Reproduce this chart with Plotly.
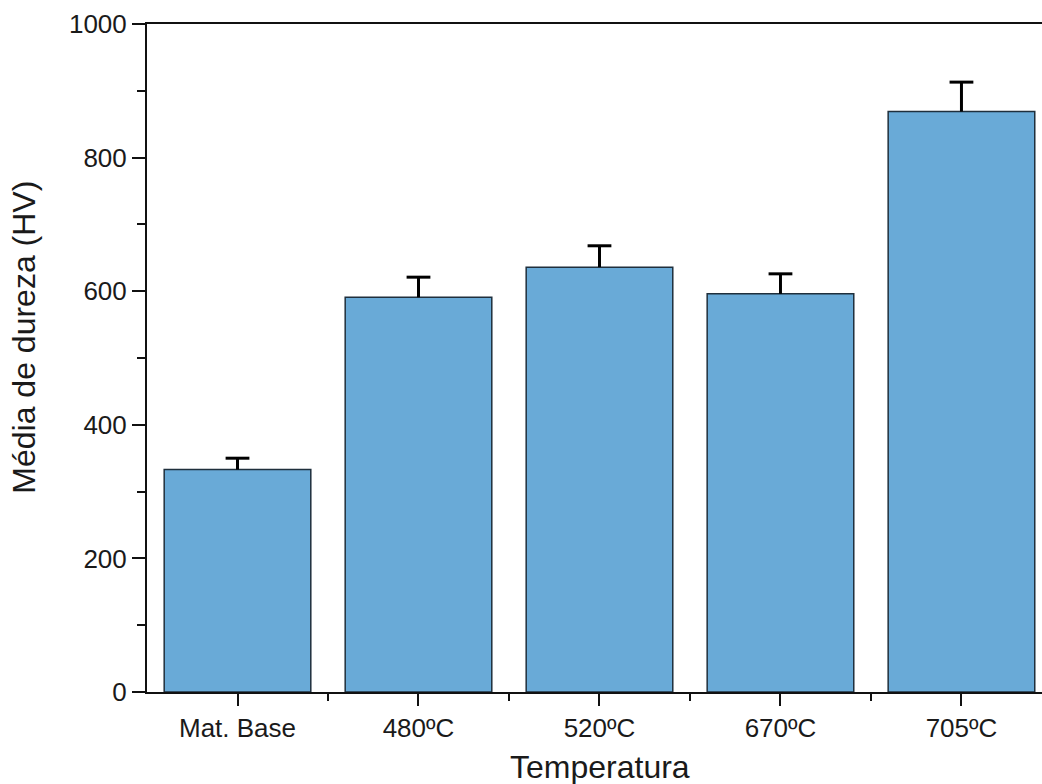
import plotly.graph_objects as go

# Vickers hardness by heat-treatment temperature
categorias = ["Mat. Base", "480ºC", "520ºC", "670ºC", "705ºC"]
dureza_media = [333, 591, 636, 596, 869]
desvio = [17, 30, 32, 30, 44]

posicoes = list(range(len(categorias)))
topo_erro = [m + d for m, d in zip(dureza_media, desvio)]

fig = go.Figure()
fig.add_trace(go.Bar(
    x=posicoes,
    y=dureza_media,
    width=0.81,
    marker=dict(color="#69aad7", line=dict(color="#1f2f3c", width=1.5)),
    showlegend=False,
))

# Upper error whiskers: stem from the bar top plus a single cap at the end
fig.add_trace(go.Scatter(
    x=posicoes,
    y=dureza_media,
    mode="markers",
    marker=dict(opacity=0),
    error_y=dict(
        type="data",
        symmetric=False,
        array=desvio,
        arrayminus=[0] * len(desvio),
        color="black",
        thickness=3,
        width=0,
    ),
    showlegend=False,
    hoverinfo="skip",
))
fig.add_trace(go.Scatter(
    x=posicoes,
    y=topo_erro,
    mode="markers",
    marker=dict(symbol="line-ew", size=17, line=dict(color="black", width=3)),
    showlegend=False,
    hoverinfo="skip",
))

font_family = "Liberation Sans, Arial, sans-serif"
axis_color = "#111111"
text_color = "#1a1a1a"

fig.update_layout(
    width=1042,
    height=784,
    margin=dict(l=147, r=0, t=24, b=92),
    paper_bgcolor="white",
    plot_bgcolor="white",
    font=dict(family=font_family, color=text_color),
    bargap=0.19,
    annotations=[
        dict(
            text="Temperatura",
            xref="paper", yref="paper",
            x=0.506, y=-0.113,
            xanchor="center", yanchor="middle",
            showarrow=False,
            font=dict(size=32, color=text_color),
        ),
        dict(
            text="Média de dureza (HV)",
            xref="paper", yref="paper",
            x=-0.137, y=0.531,
            xanchor="center", yanchor="middle",
            textangle=-90,
            showarrow=False,
            font=dict(size=32, color=text_color),
        ),
    ],
)

fig.update_xaxes(
    range=[-0.5, 4.445],
    tickmode="array",
    tickvals=posicoes,
    ticktext=categorias,
    ticks="outside",
    ticklen=12,
    tickwidth=2,
    tickcolor=axis_color,
    tickfont=dict(size=26),
    showline=True,
    linecolor=axis_color,
    linewidth=2,
    mirror=True,
    showgrid=False,
    zeroline=False,
    minor=dict(
        ticks="outside",
        tickvals=[p + 0.5 for p in posicoes[:-1]],
        ticklen=7,
        tickwidth=2,
        tickcolor=axis_color,
        showgrid=False,
    ),
)

fig.update_yaxes(
    range=[0, 1000],
    tickmode="linear",
    tick0=0,
    dtick=200,
    ticks="outside",
    ticklen=13,
    tickwidth=2,
    tickcolor=axis_color,
    tickfont=dict(size=26),
    showline=True,
    linecolor=axis_color,
    linewidth=2,
    showgrid=False,
    zeroline=False,
    minor=dict(
        ticks="outside",
        dtick=100,
        tick0=0,
        ticklen=8,
        tickwidth=2,
        tickcolor=axis_color,
        showgrid=False,
    ),
)

fig.write_html("out.html")
